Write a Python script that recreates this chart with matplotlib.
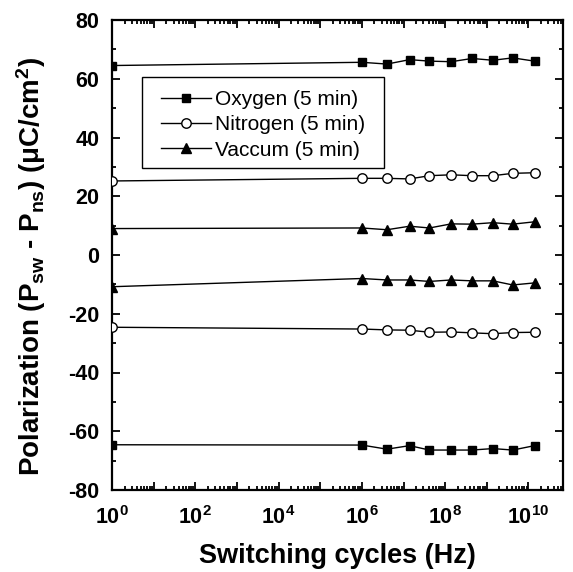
import numpy as np
import matplotlib
matplotlib.use("Agg")
import matplotlib.pyplot as plt
from matplotlib.patches import Rectangle
from matplotlib.ticker import LogLocator, FixedLocator, MultipleLocator, FuncFormatter, NullFormatter

plt.rcParams['font.family'] = ['Liberation Sans', 'DejaVu Sans']
plt.rcParams['mathtext.fontset'] = 'custom'
plt.rcParams['mathtext.rm'] = 'Liberation Sans:bold'
plt.rcParams['mathtext.it'] = 'Liberation Sans:bold'
plt.rcParams['mathtext.bf'] = 'Liberation Sans:bold'
plt.rcParams['axes.unicode_minus'] = False

cycles = [1e0, 1e6, 4e6, 1.4e7, 4.2e7, 1.4e8, 4.4e8, 1.4e9, 4.2e9, 1.4e10]

oxygen_pos = [64.5, 65.6, 65.0, 66.5, 66.0, 65.8, 66.9, 66.3, 67.1, 66.0]
oxygen_neg = [-64.6, -64.7, -66.1, -64.9, -66.4, -66.4, -66.4, -65.9, -66.4, -64.9]
nitrogen_pos = [25.2, 26.1, 26.1, 25.9, 27.0, 27.3, 27.0, 27.0, 27.8, 28.0]
nitrogen_neg = [-24.6, -25.2, -25.5, -25.6, -26.3, -26.2, -26.5, -26.8, -26.4, -26.3]
vaccum_pos = [9.0, 9.2, 8.6, 9.8, 9.2, 10.6, 10.5, 11.0, 10.5, 11.3]
vaccum_neg = [-10.8, -8.0, -8.5, -8.5, -9.0, -8.5, -8.8, -8.8, -10.2, -9.5]

labels = ["Oxygen (5 min)", "Nitrogen (5 min)", "Vaccum (5 min)"]

fig = plt.figure(figsize=(5.73, 5.72), dpi=100)
ax = fig.add_axes([112/573, 82/572, 451/573, 470/572])

kw = dict(color='black', lw=1.0, zorder=3)
ax.plot(cycles, oxygen_pos, marker='s', mfc='black', markersize=5.8, label=labels[0], **kw)
ax.plot(cycles, oxygen_neg, marker='s', mfc='black', markersize=5.8, **kw)
ax.plot(cycles, nitrogen_pos, marker='o', mfc='white', markersize=6.8, label=labels[1], **kw)
ax.plot(cycles, nitrogen_neg, marker='o', mfc='white', markersize=6.8, **kw)
ax.plot(cycles, vaccum_pos, marker='^', mfc='black', markersize=7.5, label=labels[2], **kw)
ax.plot(cycles, vaccum_neg, marker='^', mfc='black', markersize=7.5, **kw)

ax.set_xscale('log')
ax.set_xlim(1, 10**10.83)
ax.set_ylim(-80, 80)

ax.xaxis.set_major_locator(FixedLocator([10.0**k for k in range(0, 11)]))
def fmt(v, pos):
    k = int(round(np.log10(v)))
    if k % 2 == 0 and k <= 10:
        return r'$\mathbf{10^{%d}}$' % k
    return ''
ax.xaxis.set_major_formatter(FuncFormatter(fmt))
ax.xaxis.set_minor_locator(LogLocator(base=10, subs=np.arange(2, 10), numticks=100))
ax.xaxis.set_minor_formatter(NullFormatter())

ax.yaxis.set_major_locator(MultipleLocator(20))
ax.yaxis.set_minor_locator(MultipleLocator(10))

ax.tick_params(which='both', direction='in', top=True, right=True, width=1.3)
ax.tick_params(which='major', length=6, pad=9)
ax.tick_params(axis='x', which='major', labelsize=15.5, pad=11.5)
ax.tick_params(axis='y', which='major', labelsize=15.5, pad=9)
ax.tick_params(which='minor', length=3)
for lab in ax.get_yticklabels():
    lab.set_fontweight('bold')
for sp in ax.spines.values():
    sp.set_linewidth(1.6)

ax.set_xlabel('Switching cycles (Hz)', fontsize=19.5, fontweight='bold', labelpad=10)
ax.set_ylabel(r'Polarization (P$_{sw}$ - P$_{ns}$) (μC/cm$^2$)', fontsize=20,
              fontweight='bold')
ax.yaxis.set_label_coords(-0.142, 0.475)

# legend frame (square box) and frameless legend contents
ax.add_patch(Rectangle((0.066, 0.685), 0.536, 0.194, transform=ax.transAxes,
                       facecolor='white', edgecolor='black', lw=1.0, zorder=4))
leg = ax.legend(loc='upper left', bbox_to_anchor=(0.108, 0.851), borderaxespad=0,
                fontsize=15, frameon=False, handlelength=2.4, handletextpad=0.2,
                labelspacing=0.3, borderpad=0)
leg.set_zorder(5)

fig.savefig('out.png', dpi=100)
